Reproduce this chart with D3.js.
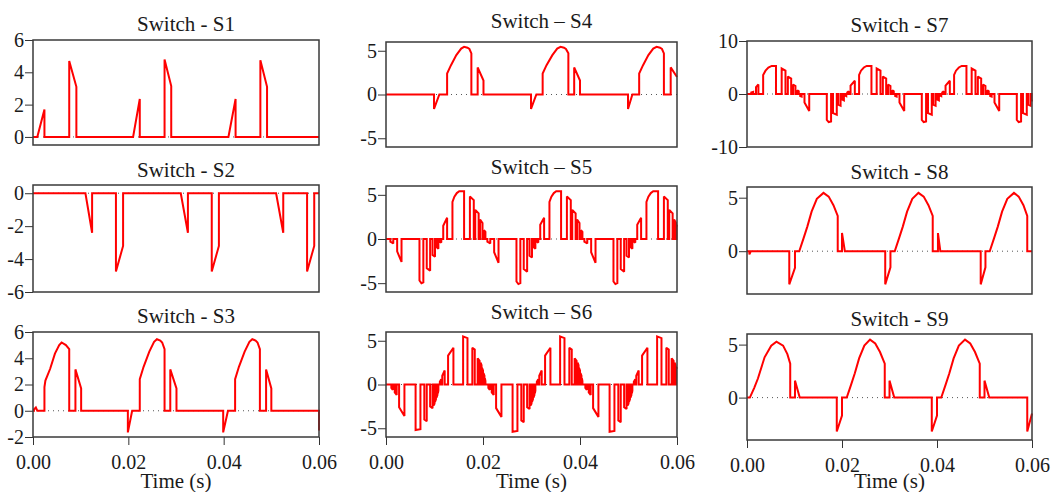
<!DOCTYPE html>
<html><head><meta charset="utf-8">
<script src="https://cdn.jsdelivr.net/npm/d3@7"></script>
<style>
body{margin:0;background:#fff}
svg{display:block}
text{font-family:"Liberation Serif","Times New Roman",serif;fill:#1a1a1a}
</style>
</head><body>
<svg id="chart" width="1059" height="492"></svg>
<script>
// ---------- data ----------
const timeDomain = [0, 0.06];
const timeTicks = [0, 0.02, 0.04, 0.06];
const timeTickLabels = ["0.00", "0.02", "0.04", "0.06"];
const xAxisLabel = "Time (s)";
const titles = ["Switch - S1", "Switch - S2", "Switch - S3",
                "Switch \u2013 S4", "Switch \u2013 S5", "Switch \u2013 S6",
                "Switch - S7", "Switch - S8", "Switch - S9"];
const yTicksS1 = [0, 2, 4, 6];
const yTicksS2 = [0, -2, -4, -6];
const yTicksS3 = [-2, 0, 2, 4, 6];
const yTicksS456 = [-5, 0, 5];
const yTicksS7 = [-10, 0, 10];
const yTicksS89 = [0, 5];

// each pulse: list of [time (s), voltage] points; the trace rests at 0 between pulses
const s1Pulses = [
  [[0.0009,0],[0.0024,1.7]],
  [[0.0076,4.7],[0.0091,3.1]],
  [[0.0210,0],[0.0224,2.35]],
  [[0.0276,4.8],[0.0290,3.15]],
  [[0.0410,0],[0.0425,2.35]],
  [[0.0477,4.75],[0.0491,3.1]]
];
const s2Pulses = [
  [[0.0110,0],[0.0124,-2.4]],
  [[0.0174,-4.75],[0.0189,-3.2]],
  [[0.0310,0],[0.0325,-2.4]],
  [[0.0375,-4.75],[0.0390,-3.2]],
  [[0.0510,0],[0.0525,-2.4]],
  [[0.0575,-4.75],[0.0590,-3.2]]
];
const s3Pulses = [
  [[0.0002,0.1],[0.0006,0.25],[0.0009,0]],
  [[0.0024,1.8],[0.0026,2.3],[0.0036,3.2],[0.0046,4.35],[0.0055,5.0],[0.0060,5.2],[0.0069,5.0],[0.0076,4.7]],
  [[0.0089,3.15],[0.0101,1.7]],
  [[0.0199,-1.65],[0.0208,0]],
  [[0.0224,2.4],[0.0232,3.35],[0.0244,4.5],[0.0254,5.25],[0.0260,5.45],[0.0267,5.35],[0.0271,5.2],[0.0276,4.7]],
  [[0.0288,3.15],[0.0301,1.7]],
  [[0.0399,-1.65],[0.0409,0]],
  [[0.0424,2.4],[0.0432,3.35],[0.0444,4.5],[0.0454,5.25],[0.0460,5.45],[0.0467,5.35],[0.0471,5.2],[0.0476,4.7]],
  [[0.0489,3.15],[0.0500,1.7]],
  [[0.0600,-1.5]]
];
const s4Pulses = [
  [[0.0099,-1.65],[0.0110,0]],
  [[0.0126,2.4],[0.0134,3.35],[0.0145,4.5],[0.0155,5.25],[0.0161,5.45],[0.0168,5.35],[0.0172,5.2],[0.0176,4.7]],
  [[0.0189,3.1],[0.0201,1.6]],
  [[0.0299,-1.65],[0.0310,0]],
  [[0.0323,2.4],[0.0331,3.35],[0.0343,4.5],[0.0353,5.25],[0.0360,5.45],[0.0367,5.35],[0.0371,5.2],[0.0376,4.7]],
  [[0.0388,3.1],[0.0400,1.6]],
  [[0.0499,-1.65],[0.0508,0]],
  [[0.0522,2.4],[0.0530,3.35],[0.0541,4.5],[0.0551,5.25],[0.0558,5.45],[0.0565,5.35],[0.0569,5.2],[0.0573,4.7]],
  [[0.0587,3.1],[0.0600,2.0]]
];
const s5Pulses = [
  [[0.0009,-0.3],[0.0015,-0.5]],
  [[0.0023,-1.4],[0.0032,-2.6]],
  [[0.0069,-4.7],[0.0073,-5.0],[0.0077,-4.9]],
  [[0.0084,-3.3],[0.0091,-3.6]],
  [[0.0096,-1.8],[0.0101,-2.0]],
  [[0.0104,-0.9],[0.0108,-1.1]],
  [[0.0111,-0.3],[0.0114,-0.4]],
  [[0.0118,1.5],[0.0126,2.4]],
  [[0.0137,4.2],[0.0141,4.8],[0.0146,5.2],[0.0151,5.4],[0.0161,5.4]],
  [[0.0173,4.8],[0.0181,4.4]],
  [[0.0184,3.3],[0.0191,2.9]],
  [[0.0194,2.2],[0.0199,1.8]],
  [[0.0202,1.0],[0.0205,0.8]],
  [[0.0209,-0.3],[0.0215,-0.5]],
  [[0.0223,-1.5],[0.0232,-2.7]],
  [[0.0269,-4.8],[0.0273,-5.1],[0.0277,-5.0]],
  [[0.0284,-3.4],[0.0291,-3.7]],
  [[0.0296,-1.9],[0.0301,-2.1]],
  [[0.0304,-0.9],[0.0308,-1.1]],
  [[0.0311,-0.3],[0.0314,-0.4]],
  [[0.0318,1.6],[0.0326,2.4]],
  [[0.0337,4.2],[0.0341,4.8],[0.0346,5.2],[0.0351,5.4],[0.0361,5.4]],
  [[0.0373,4.8],[0.0381,4.4]],
  [[0.0384,3.3],[0.0391,2.9]],
  [[0.0394,2.2],[0.0399,1.8]],
  [[0.0402,1.0],[0.0405,0.8]],
  [[0.0409,-0.3],[0.0415,-0.5]],
  [[0.0423,-1.5],[0.0432,-2.7]],
  [[0.0469,-4.8],[0.0473,-5.1],[0.0477,-5.0]],
  [[0.0484,-3.4],[0.0491,-3.7]],
  [[0.0496,-1.9],[0.0501,-2.1]],
  [[0.0504,-0.9],[0.0508,-1.1]],
  [[0.0511,-0.3],[0.0514,-0.4]],
  [[0.0518,1.6],[0.0526,2.4]],
  [[0.0537,4.2],[0.0541,4.8],[0.0546,5.2],[0.0551,5.4],[0.0561,5.4]],
  [[0.0573,4.8],[0.0581,4.4]],
  [[0.0584,3.3],[0.0591,2.9]],
  [[0.0594,2.2],[0.0598,1.8]],
  [[0.0599,1.6],[0.0600,1.4]]
];
const s6Pulses = [
  [[0.0011,-0.4],[0.0014,-0.6]],
  [[0.0018,-0.9],[0.0022,-1.2]],
  [[0.0027,-2.6],[0.0038,-3.6]],
  [[0.0061,-5.2],[0.0071,-5.1]],
  [[0.0079,-4.0],[0.0084,-4.2]],
  [[0.0091,-2.5],[0.0096,-2.7]],
  [[0.0098,-2.4],[0.0100,-2.2]],
  [[0.0101,-2.0],[0.0103,-1.7]],
  [[0.0104,-1.5],[0.0106,-1.2]],
  [[0.0107,-1.0],[0.0108,-0.7]],
  [[0.0111,0.3],[0.0114,0.6]],
  [[0.0116,1.0],[0.0121,1.6]],
  [[0.0128,3.3],[0.0139,4.2]],
  [[0.0159,5.5],[0.0168,5.3]],
  [[0.0178,4.2],[0.0183,4.0]],
  [[0.0189,3.0],[0.0193,2.7]],
  [[0.0195,2.5],[0.0197,2.2]],
  [[0.0198,1.9],[0.0200,1.6]],
  [[0.0201,1.3],[0.0203,1.0]],
  [[0.0204,0.7],[0.0205,0.4]],
  [[0.0211,-0.4],[0.0214,-0.6]],
  [[0.0218,-0.9],[0.0222,-1.2]],
  [[0.0227,-2.7],[0.0238,-3.7]],
  [[0.0261,-5.4],[0.0271,-5.3]],
  [[0.0279,-4.1],[0.0284,-4.3]],
  [[0.0291,-2.6],[0.0296,-2.8]],
  [[0.0298,-2.4],[0.0300,-2.2]],
  [[0.0301,-2.0],[0.0303,-1.7]],
  [[0.0304,-1.5],[0.0306,-1.2]],
  [[0.0307,-1.0],[0.0308,-0.7]],
  [[0.0311,0.3],[0.0314,0.6]],
  [[0.0316,1.0],[0.0321,1.6]],
  [[0.0328,3.3],[0.0339,4.2]],
  [[0.0359,5.5],[0.0368,5.3]],
  [[0.0378,4.2],[0.0383,4.0]],
  [[0.0389,3.0],[0.0393,2.7]],
  [[0.0395,2.5],[0.0397,2.2]],
  [[0.0398,1.9],[0.0400,1.6]],
  [[0.0401,1.3],[0.0403,1.0]],
  [[0.0404,0.7],[0.0405,0.4]],
  [[0.0411,-0.4],[0.0414,-0.6]],
  [[0.0418,-0.9],[0.0422,-1.2]],
  [[0.0427,-2.7],[0.0438,-3.7]],
  [[0.0461,-5.4],[0.0471,-5.3]],
  [[0.0479,-4.1],[0.0484,-4.3]],
  [[0.0491,-2.6],[0.0496,-2.8]],
  [[0.0498,-2.4],[0.0500,-2.2]],
  [[0.0501,-2.0],[0.0503,-1.7]],
  [[0.0504,-1.5],[0.0506,-1.2]],
  [[0.0507,-1.0],[0.0508,-0.7]],
  [[0.0511,0.3],[0.0514,0.6]],
  [[0.0516,1.0],[0.0521,1.6]],
  [[0.0528,3.3],[0.0539,4.2]],
  [[0.0559,5.5],[0.0568,5.3]],
  [[0.0578,4.2],[0.0583,4.0]],
  [[0.0589,3.0],[0.0593,2.7]],
  [[0.0595,2.5],[0.0597,2.2]],
  [[0.0598,2.0],[0.0600,1.8]]
];
const s7Pulses = [
  [[0.0009,0.3],[0.0013,0.4]],
  [[0.0019,1.3],[0.0024,1.8]],
  [[0.0034,3.6],[0.0039,4.4],[0.0045,5.0],[0.0052,5.3],[0.0061,5.3]],
  [[0.0073,4.8],[0.0081,4.4]],
  [[0.0086,3.3],[0.0093,2.9]],
  [[0.0097,1.8],[0.0102,1.5]],
  [[0.0106,0.7],[0.0109,0.5]],
  [[0.0112,-0.4],[0.0115,-0.5]],
  [[0.0121,-1.6],[0.0131,-3.2]],
  [[0.0168,-4.9],[0.0172,-5.3],[0.0177,-5.2]],
  [[0.0181,-3.6],[0.0189,-3.9]],
  [[0.0192,-2.0],[0.0197,-2.2]],
  [[0.0200,-1.0],[0.0204,-1.2]],
  [[0.0207,-0.3],[0.0209,-0.4]],
  [[0.0211,0.3],[0.0214,0.5]],
  [[0.0218,1.6],[0.0227,2.5]],
  [[0.0236,3.6],[0.0240,4.4],[0.0246,5.0],[0.0252,5.3],[0.0262,5.3]],
  [[0.0273,4.8],[0.0281,4.4]],
  [[0.0286,3.3],[0.0293,2.9]],
  [[0.0297,1.8],[0.0302,1.5]],
  [[0.0306,0.7],[0.0309,0.5]],
  [[0.0312,-0.4],[0.0315,-0.5]],
  [[0.0321,-1.6],[0.0331,-3.2]],
  [[0.0368,-4.9],[0.0372,-5.3],[0.0377,-5.2]],
  [[0.0381,-3.6],[0.0389,-3.9]],
  [[0.0392,-2.0],[0.0397,-2.2]],
  [[0.0400,-1.0],[0.0404,-1.2]],
  [[0.0407,-0.3],[0.0409,-0.4]],
  [[0.0411,0.3],[0.0414,0.5]],
  [[0.0418,1.6],[0.0427,2.5]],
  [[0.0436,3.6],[0.0440,4.4],[0.0446,5.0],[0.0452,5.3],[0.0462,5.3]],
  [[0.0473,4.8],[0.0481,4.4]],
  [[0.0486,3.3],[0.0493,2.9]],
  [[0.0497,1.8],[0.0502,1.5]],
  [[0.0506,0.7],[0.0509,0.5]],
  [[0.0512,-0.4],[0.0515,-0.5]],
  [[0.0521,-1.6],[0.0531,-3.2]],
  [[0.0568,-4.9],[0.0572,-5.3],[0.0577,-5.2]],
  [[0.0581,-3.6],[0.0589,-3.9]],
  [[0.0592,-2.0],[0.0597,-2.2]],
  [[0.0599,-1.0],[0.0600,-1.4]]
];
const s8Pulses = [
  [[0.0005,-0.3],[0.0007,-0.1]],
  [[0.0089,-3.1],[0.0101,-1.55]],
  [[0.0110,0],[0.0119,1.2],[0.0127,2.3],[0.0136,3.7],[0.0147,4.9],[0.0161,5.45],[0.0172,5.1],[0.0182,4.3],[0.0191,3.3]],
  [[0.0200,1.7],[0.0206,0]],
  [[0.0291,-3.1],[0.0302,-1.5]],
  [[0.0311,0],[0.0320,1.2],[0.0328,2.3],[0.0337,3.7],[0.0348,4.9],[0.0361,5.45],[0.0372,5.1],[0.0382,4.3],[0.0391,3.3]],
  [[0.0402,1.7],[0.0407,0]],
  [[0.0492,-3.1],[0.0502,-1.5]],
  [[0.0511,0],[0.0520,1.2],[0.0528,2.3],[0.0537,3.7],[0.0548,4.9],[0.0562,5.45],[0.0572,5.1],[0.0582,4.3],[0.0590,3.3]]
];
const s9Pulses = [
  [[0.0006,0],[0.0015,0.9],[0.0023,1.8],[0.0037,3.8],[0.0051,4.9],[0.0062,5.28],[0.0076,4.9],[0.0085,4.1],[0.0091,3.2]],
  [[0.0101,1.6],[0.0111,0]],
  [[0.0189,-3.2],[0.0200,-1.7]],
  [[0.0210,0],[0.0219,1.2],[0.0227,2.3],[0.0236,3.7],[0.0247,4.9],[0.0259,5.47],[0.0270,5.1],[0.0280,4.3],[0.0290,3.2]],
  [[0.0300,1.6],[0.0310,0]],
  [[0.0389,-3.2],[0.0400,-1.7]],
  [[0.0409,0],[0.0418,1.2],[0.0426,2.3],[0.0435,3.7],[0.0446,4.9],[0.0459,5.47],[0.0470,5.1],[0.0480,4.3],[0.0490,3.2]],
  [[0.0500,1.6],[0.0510,0]],
  [[0.0590,-3.2],[0.0600,-1.5]]
];

// ---------- layout ----------
const panels = [
  {title: titles[0], pulses: s1Pulses, yDomain: [-0.5, 6], yTicks: yTicksS1, box: [33, 40, 319, 145], titleY: 31},
  {title: titles[1], pulses: s2Pulses, yDomain: [-6, 0.5], yTicks: yTicksS2, box: [33, 185, 319, 292], titleY: 177},
  {title: titles[2], pulses: s3Pulses, yDomain: [-2, 6], yTicks: yTicksS3, box: [33, 332, 319, 437], titleY: 323, xAxis: true},
  {title: titles[3], pulses: s4Pulses, yDomain: [-6, 6], yTicks: yTicksS456, box: [386, 42, 677, 147], titleY: 28},
  {title: titles[4], pulses: s5Pulses, yDomain: [-6, 6], yTicks: yTicksS456, box: [386, 186, 677, 292], titleY: 174},
  {title: titles[5], pulses: s6Pulses, yDomain: [-6, 6], yTicks: yTicksS456, box: [386, 332, 677, 437], titleY: 319, xAxis: true},
  {title: titles[6], pulses: s7Pulses, yDomain: [-10, 10], yTicks: yTicksS7, box: [747, 41, 1032, 147], titleY: 32},
  {title: titles[7], pulses: s8Pulses, yDomain: [-4, 6], yTicks: yTicksS89, box: [747, 187, 1032, 294], titleY: 179},
  {title: titles[8], pulses: s9Pulses, yDomain: [-4, 6], yTicks: yTicksS89, box: [747, 334, 1032, 440], titleY: 326, xAxis: true}
];

const svg = d3.select("#chart");
const fmt = d => d < 0 ? "-" + Math.abs(d) : String(d);

function tracePoints(pulses) {
  const pts = [[timeDomain[0], 0]];
  pulses.forEach(p => {
    pts.push([p[0][0], 0]);
    p.forEach(q => pts.push(q));
    const last = p[p.length - 1];
    if (last[0] < timeDomain[1]) pts.push([last[0], 0]);
  });
  const end = pts[pts.length - 1];
  if (end[0] < timeDomain[1]) pts.push([timeDomain[1], 0]);
  return pts;
}

panels.forEach(pn => {
  const [x0, y0, x1, y1] = pn.box;
  const x = d3.scaleLinear().domain(timeDomain).range([x0, x1]);
  const y = d3.scaleLinear().domain(pn.yDomain).range([y1, y0]);
  const g = svg.append("g");

  // dotted zero reference
  g.append("line")
    .attr("x1", x0).attr("x2", x1).attr("y1", y(0)).attr("y2", y(0))
    .attr("stroke", "#555").attr("stroke-width", 1).attr("stroke-dasharray", "1,4");

  // y axis
  const ya = g.append("g").attr("transform", `translate(${x0},0)`)
    .call(d3.axisLeft(y).tickValues(pn.yTicks).tickFormat(fmt).tickSize(8).tickPadding(1));
  ya.select(".domain").remove();
  ya.selectAll("line").attr("stroke", "#333").attr("stroke-width", 1);
  ya.selectAll("text").style("font-size", "20px").attr("fill", "#1a1a1a")
    .style("font-family", "'Liberation Serif','Times New Roman',serif");

  if (pn.xAxis) {
    const xa = g.append("g").attr("transform", `translate(0,${y1})`)
      .call(d3.axisBottom(x).tickValues(timeTicks).tickFormat((d, i) => timeTickLabels[i]).tickSize(8).tickPadding(10));
    xa.select(".domain").remove();
    xa.selectAll("line").attr("stroke", "#333").attr("stroke-width", 1);
    xa.selectAll("text").style("font-size", "20px").attr("fill", "#1a1a1a")
      .style("font-family", "'Liberation Serif','Times New Roman',serif");
    g.append("text").attr("x", (x0 + x1) / 2).attr("y", 488)
      .attr("text-anchor", "middle").style("font-size", "21px").text(xAxisLabel);
  }

  // waveform
  const line = d3.line().x(d => x(d[0])).y(d => y(d[1]));
  g.append("path").datum(tracePoints(pn.pulses))
    .attr("d", line).attr("fill", "none").attr("stroke", "#ff0000")
    .attr("stroke-width", 2).attr("stroke-linejoin", "miter").attr("stroke-miterlimit", 2);

  // frame
  g.append("rect").attr("x", x0).attr("y", y0).attr("width", x1 - x0).attr("height", y1 - y0)
    .attr("fill", "none").attr("stroke", "#3a3a3a").attr("stroke-width", 1.5);

  // title
  g.append("text").attr("x", (x0 + x1) / 2 + 10).attr("y", pn.titleY)
    .attr("text-anchor", "middle").style("font-size", "21px").text(pn.title);
});
</script>
</body></html>
